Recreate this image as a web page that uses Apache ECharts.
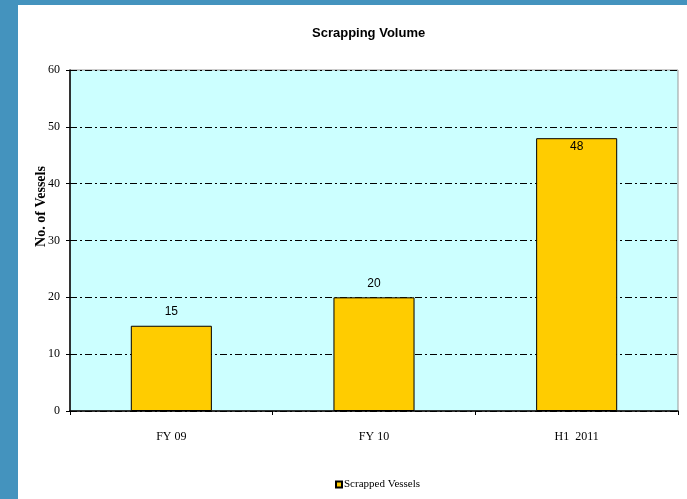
<!DOCTYPE html>
<html>
<head>
<meta charset="utf-8">
<script src="https://cdn.jsdelivr.net/npm/echarts@6/dist/echarts.min.js"></script>
<style>
  html, body { margin: 0; padding: 0; background: #4493BE; }
  #frame { position: absolute; left: 18px; top: 5px; width: 669px; height: 494px; background: #ffffff; }
  #chart { width: 669px; height: 494px; }
</style>
</head>
<body>
<div id="frame"><div id="chart"></div></div>
<script>
const categories = ['FY 09', 'FY 10', 'H1  2011'];
const scrappedVessels = [15, 20, 48];
const yTicks = [0, 10, 20, 30, 40, 50, 60];

const chart = echarts.init(document.getElementById('chart'));
const serif = '"Liberation Serif", "Times New Roman", serif';
const sans = '"Liberation Sans", Arial, sans-serif';

chart.setOption({
  animation: false,
  title: {
    text: 'Scrapping Volume',
    left: 289,
    top: 17,
    textStyle: { fontFamily: sans, fontSize: 13, fontWeight: 'bold', color: '#000' }
  },
  legend: {
    bottom: 4,
    left: 312,
    itemWidth: 6,
    itemHeight: 6,
    itemGap: 2,
    icon: 'rect',
    textStyle: { fontFamily: serif, fontSize: 11, color: '#000', padding: [6, 0, 0, -3] },
    data: ['Scrapped Vessels']
  },
  grid: {
    left: 52, right: 9, top: 65, bottom: 88,
    outerBoundsMode: 'none',
    containLabel: false,
    show: true,
    backgroundColor: '#CCFFFF',
    borderColor: '#999999',
    borderWidth: 1
  },
  xAxis: {
    type: 'category',
    data: categories,
    axisLine: { lineStyle: { color: '#000', width: 1.5 } },
    axisTick: { show: true, length: 4, lineStyle: { color: '#000' } },
    axisLabel: { fontFamily: serif, fontSize: 12, color: '#000', margin: 20 }
  },
  yAxis: {
    type: 'value',
    min: yTicks[0],
    max: yTicks[yTicks.length - 1],
    interval: 10,
    name: 'No. of Vessels',
    nameLocation: 'middle',
    nameGap: 22,
    nameMoveOverlap: false,
    nameRotate: 90,
    nameTextStyle: {
      fontFamily: serif, fontSize: 14, fontWeight: 'bold', color: '#000',
      padding: [0, 0, 0, 68]
    },
    axisLine: { show: true, lineStyle: { color: '#000', width: 1.5 } },
    axisTick: { show: true, length: 4, lineStyle: { color: '#000' } },
    axisLabel: { fontFamily: serif, fontSize: 12, color: '#000', margin: 10 },
    splitLine: {
      show: true,
      lineStyle: { color: '#000', width: 1, type: [7, 3, 2, 3] }
    }
  },
  series: [{
    name: 'Scrapped Vessels',
    type: 'bar',
    // The tallest bar carries its label inside, just below its top edge.
    data: scrappedVessels.map((v, i) => i === scrappedVessels.length - 1
      ? { value: v, label: { position: 'insideTop', distance: 2 } }
      : v),
    barWidth: '40%',
    itemStyle: { color: '#FFCC00', borderColor: '#000', borderWidth: 1 },
    label: {
      show: true,
      position: 'top',
      distance: 8,
      fontFamily: sans,
      fontSize: 12,
      color: '#000',
      formatter: p => String(p.value)
    }
  }]
});
</script>
</body>
</html>
